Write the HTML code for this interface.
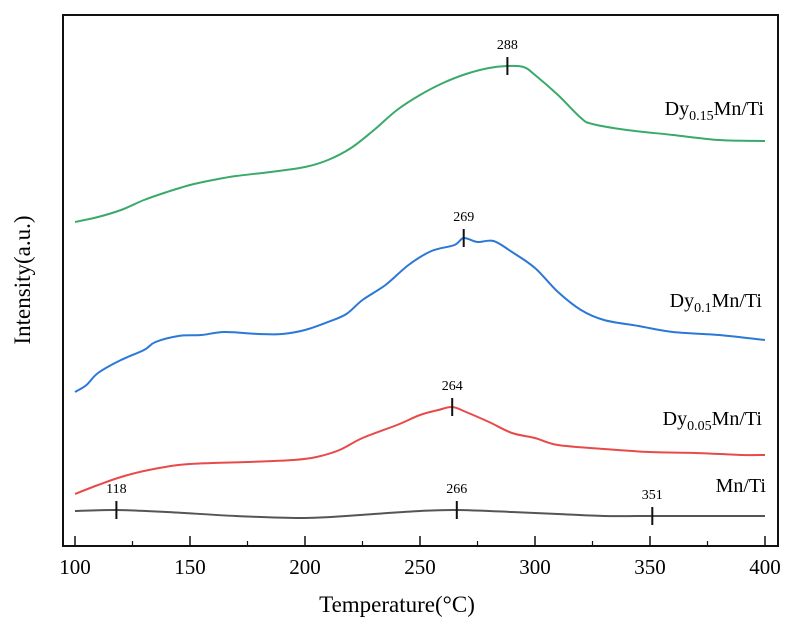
<!DOCTYPE html>
<html><head><meta charset="utf-8"><style>
body{margin:0;background:#fff;}
svg{display:block;font-family:"Liberation Serif",serif;}
</style></head><body>
<svg id="chart" width="795" height="635" viewBox="0 0 795 635">
<rect x="63" y="15" width="715" height="531" fill="none" stroke="#111" stroke-width="2"/>
<g id="xaxis"></g>
<g id="series"></g>
<text x="397" y="612" font-size="23" text-anchor="middle">Temperature(°C)</text>
<text transform="translate(30,280) rotate(-90)" font-size="23" text-anchor="middle">Intensity(a.u.)</text>
<text x="764" y="115" font-size="20" text-anchor="end">Dy<tspan font-size="14" dy="5">0.15</tspan><tspan dy="-5">Mn/Ti</tspan></text>
<text x="762" y="307" font-size="20" text-anchor="end">Dy<tspan font-size="14" dy="5">0.1</tspan><tspan dy="-5">Mn/Ti</tspan></text>
<text x="762" y="425" font-size="20" text-anchor="end">Dy<tspan font-size="14" dy="5">0.05</tspan><tspan dy="-5">Mn/Ti</tspan></text>
<text x="766" y="492" font-size="20" text-anchor="end">Mn/Ti</text>
</svg>
<script>
const majorTicks=[100,150,200,250,300,350,400];
const minorTicks=[125,175,225,275,325,375];
const greenT=[100,110,120,130,140,150,160,170,185,200,210,220,230,240,250,260,270,280,288,295,300,310,320,325,340,360,380,400];
const greenV=[321,326,333,343,351,358,363,367,371,376,383,395,413,433,448,460,469,475,477,476,468,448,425,419,413,408,403,402];
const blueT=[100,105,110,120,130,135,145,155,165,180,190,200,210,218,225,235,245,255,265,269,275,282,290,300,310,320,330,345,360,380,400];
const blueV=[151,158,170,183,193,201,207,208,211,209,209,213,221,229,243,258,278,292,298,305,301,302,291,275,251,233,223,217,211,208,203];
const redT=[100,110,120,130,145,160,175,195,205,215,225,240,250,258,264,270,280,290,300,310,330,350,370,390,400];
const redV=[49,58,66,72,78,80,81,83,86,93,105,118,128,133,136,131,121,110,105,98,94,91,90,88,88];
const blackT=[100,118,140,170,200,230,250,266,290,310,330,351,400];
const blackV=[32,33,31,27,25,29,32,33,31,29,27,27,27];
const peakTemps=[288,269,264,118,266,351];
const peakSeries=[0,1,2,3,3,3];
const ns="http://www.w3.org/2000/svg";
const xS=t=>75+(t-100)*2.3;
const yS=v=>543-v;
const xg=document.getElementById('xaxis');
const sg=document.getElementById('series');
function mk(tag,attrs,parent){const e=document.createElementNS(ns,tag);for(const k in attrs)e.setAttribute(k,attrs[k]);parent.appendChild(e);return e;}
majorTicks.forEach(t=>{
 const l=mk('line',{x1:xS(t),x2:xS(t),y1:546,y2:536,stroke:'#111','stroke-width':1.5},xg);
 
 
 const tx=mk('text',{x:xS(t),y:574,'font-size':21,'text-anchor':'middle'},xg);
 tx.textContent=t;
 
 
});
minorTicks.forEach(t=>{
 const l=mk('line',{x1:xS(t),x2:xS(t),y1:546,y2:541,stroke:'#111','stroke-width':1.2},xg);
 
 
});
const series=[[greenT,greenV,'#3aaa6a','curve-dy015'],[blueT,blueV,'#2a78d8','curve-dy01'],[redT,redV,'#e84a4a','curve-dy005'],[blackT,blackV,'#555','curve-mnti']];
function interp(T,V,t){for(let i=0;i<T.length-1;i++){if(t>=T[i]&&t<=T[i+1]){return V[i]+(V[i+1]-V[i])*(t-T[i])/(T[i+1]-T[i]);}}return V[V.length-1];}
function smoothPath(T,V){
 const P=T.map((t,i)=>[xS(t),yS(V[i])]);
 let d='M'+P[0][0].toFixed(1)+','+P[0][1].toFixed(1);
 for(let i=0;i<P.length-1;i++){
  const p0=P[Math.max(0,i-1)],p1=P[i],p2=P[i+1],p3=P[Math.min(P.length-1,i+2)];
  const c1=[p1[0]+(p2[0]-p0[0])/6,p1[1]+(p2[1]-p0[1])/6];
  const c2=[p2[0]-(p3[0]-p1[0])/6,p2[1]-(p3[1]-p1[1])/6];
  d+=' C'+c1.map(n=>n.toFixed(1)).join(',')+' '+c2.map(n=>n.toFixed(1)).join(',')+' '+p2.map(n=>n.toFixed(1)).join(',');
 }
 return d;
}
series.forEach(s=>{
 const p=mk('path',{d:smoothPath(s[0],s[1]),fill:'none',stroke:s[2],'stroke-width':2,'stroke-linejoin':'round'},sg);
 
 
});
peakTemps.forEach((t,i)=>{
 const s=series[peakSeries[i]];
 const y=yS(interp(s[0],s[1],t));
 const l=mk('line',{x1:xS(t),x2:xS(t),y1:y-9,y2:y+9,stroke:'#111','stroke-width':2},sg);
 
 
 const tx=mk('text',{x:xS(t),y:y-17,'font-size':14,'text-anchor':'middle'},sg);
 tx.textContent=t;
 
 
});
</script>
</body></html>
